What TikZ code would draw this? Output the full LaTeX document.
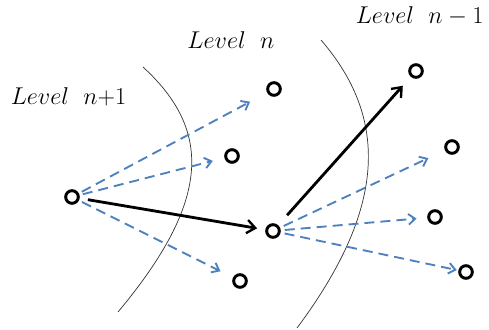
\documentclass[tikz,border=0pt]{standalone}
\usepackage{amsmath}
\usepackage{xcolor}
\usepackage{tikz}
\usetikzlibrary{arrows.meta,calc}

\definecolor{dashblue}{RGB}{79,129,189}

\begin{document}
\begin{tikzpicture}[
    vertex/.style={circle, draw, line width=2.5pt, minimum size=0.38cm, inner sep=0pt},
    level/.style={anchor=west, font=\fontsize{20.5}{24}\selectfont},
    border/.style={line width=0.6pt, black!80},
    move/.style={-{Straight Barb[length=2.5mm, width=4mm, line width=2pt]}, line width=2.4pt},
    option/.style={-{Straight Barb[length=2mm, width=3.2mm]}, line width=1.6pt, dashblue, dash pattern=on 0.3cm off 0.18cm}
]
\useasboundingbox (0,0) rectangle (14.67,9.87);

% Level labels
\node[level] (ln1) at (0.20,6.96) {$Level~~n{+}1$};
\node[level] (ln) at (5.50,8.67) {$Level~~n$};
\node[level] (lm1) at (10.55,9.39) {$Level~~n-1$};

% Level borders
\draw[border] (4.29,7.86) .. controls (6.35,5.97) and (6.35,3.87) .. (3.54,0.51);
\draw[border] (9.63,8.67) .. controls (11.70,6.27) and (11.55,3.57) .. (8.91,0.03);

% Level n+1
\node[vertex] (a) at (2.16,3.96) {};

% Level n
\node[vertex] (b1) at (8.22,7.20) {};
\node[vertex] (b2) at (6.96,5.19) {};
\node[vertex] (b3) at (8.19,2.94) {};
\node[vertex] (b4) at (7.20,1.44) {};

% Level n-1
\node[vertex] (c1) at (12.48,7.74) {};
\node[vertex] (c2) at (13.56,5.46) {};
\node[vertex] (c3) at (13.05,3.36) {};
\node[vertex] (c4) at (13.98,1.71) {};

% Moves
\draw[option, shorten <=0.1cm, shorten >=0.58cm] (a) -- (b1);
\draw[option, shorten <=0.1cm, shorten >=0.36cm] (a) -- (b2);
\draw[option, shorten <=0.1cm, shorten >=0.42cm] (a) -- (b4);
\draw[move, shorten <=0.25cm, shorten >=0.25cm] (a) -- (b3);

\draw[move, shorten <=0.4cm, shorten >=0.36cm] (b3) -- (c1);
\draw[option, shorten <=0.12cm, shorten >=0.55cm] (b3) -- (c2);
\draw[option, shorten <=0.12cm, shorten >=0.32cm] (b3) -- (c3);
\draw[option, shorten <=0.12cm, shorten >=0.05cm] (b3) -- (c4);
\end{tikzpicture}
\end{document}
